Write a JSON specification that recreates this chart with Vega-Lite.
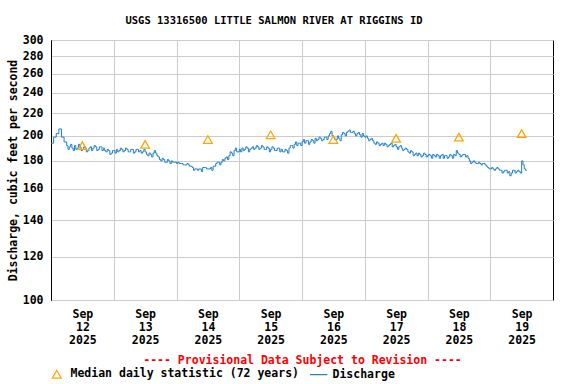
{
  "$schema": "https://vega.github.io/schema/vega-lite/v6.json",
  "autosize": {"type": "none"},
  "padding": {"left": 51, "top": 40, "right": 23, "bottom": 84},
  "width": 502,
  "height": 260,
  "title": {"text": "USGS 13316500 LITTLE SALMON RIVER AT RIGGINS ID", "font": "DejaVu Sans Mono", "fontSize": 10.5, "fontWeight": "bold", "color": "black", "anchor": "middle", "offset": 8, "dx": -28},
  "datasets": {
    "discharge": [
      {"t":"2025-09-12T00:00","q":194},{"t":"2025-09-12T01:00","q":199},{"t":"2025-09-12T02:00","q":202},{"t":"2025-09-12T03:00","q":206},{"t":"2025-09-12T04:00","q":199},{"t":"2025-09-12T05:00","q":195},{"t":"2025-09-12T06:00","q":192},{"t":"2025-09-12T07:00","q":191},{"t":"2025-09-12T08:00","q":190},{"t":"2025-09-12T09:00","q":192},{"t":"2025-09-12T10:00","q":190},{"t":"2025-09-12T11:00","q":191},{"t":"2025-09-12T12:00","q":189},{"t":"2025-09-12T13:00","q":190},{"t":"2025-09-12T14:00","q":188},{"t":"2025-09-12T15:00","q":191},{"t":"2025-09-12T16:00","q":190},{"t":"2025-09-12T17:00","q":191},{"t":"2025-09-12T18:00","q":189},{"t":"2025-09-12T19:00","q":191},{"t":"2025-09-12T20:00","q":190},{"t":"2025-09-12T21:00","q":187},{"t":"2025-09-12T22:00","q":188},{"t":"2025-09-12T23:00","q":186},
      {"t":"2025-09-13T00:00","q":188},{"t":"2025-09-13T01:00","q":189},{"t":"2025-09-13T02:00","q":188},{"t":"2025-09-13T03:00","q":189},{"t":"2025-09-13T04:00","q":188},{"t":"2025-09-13T05:00","q":189},{"t":"2025-09-13T06:00","q":187},{"t":"2025-09-13T07:00","q":189},{"t":"2025-09-13T08:00","q":187},{"t":"2025-09-13T09:00","q":189},{"t":"2025-09-13T10:00","q":188},{"t":"2025-09-13T11:00","q":187},{"t":"2025-09-13T12:00","q":187},{"t":"2025-09-13T13:00","q":184},{"t":"2025-09-13T14:00","q":185},{"t":"2025-09-13T15:00","q":186},{"t":"2025-09-13T16:00","q":186},{"t":"2025-09-13T17:00","q":183},{"t":"2025-09-13T18:00","q":180},{"t":"2025-09-13T19:00","q":181},{"t":"2025-09-13T20:00","q":179},{"t":"2025-09-13T21:00","q":180},{"t":"2025-09-13T22:00","q":180},{"t":"2025-09-13T23:00","q":179},
      {"t":"2025-09-14T00:00","q":178},{"t":"2025-09-14T01:00","q":178},{"t":"2025-09-14T02:00","q":178},{"t":"2025-09-14T03:00","q":177},{"t":"2025-09-14T04:00","q":178},{"t":"2025-09-14T05:00","q":176},{"t":"2025-09-14T06:00","q":175},{"t":"2025-09-14T07:00","q":174},{"t":"2025-09-14T08:00","q":173},{"t":"2025-09-14T09:00","q":174},{"t":"2025-09-14T10:00","q":175},{"t":"2025-09-14T11:00","q":175},{"t":"2025-09-14T12:00","q":174},{"t":"2025-09-14T13:00","q":175},{"t":"2025-09-14T14:00","q":176},{"t":"2025-09-14T15:00","q":178},{"t":"2025-09-14T16:00","q":179},{"t":"2025-09-14T17:00","q":179},{"t":"2025-09-14T18:00","q":180},{"t":"2025-09-14T19:00","q":183},{"t":"2025-09-14T20:00","q":184},{"t":"2025-09-14T21:00","q":186},{"t":"2025-09-14T22:00","q":188},{"t":"2025-09-14T23:00","q":187},
      {"t":"2025-09-15T00:00","q":189},{"t":"2025-09-15T01:00","q":190},{"t":"2025-09-15T02:00","q":189},{"t":"2025-09-15T03:00","q":190},{"t":"2025-09-15T04:00","q":189},{"t":"2025-09-15T05:00","q":191},{"t":"2025-09-15T06:00","q":190},{"t":"2025-09-15T07:00","q":191},{"t":"2025-09-15T08:00","q":190},{"t":"2025-09-15T09:00","q":191},{"t":"2025-09-15T10:00","q":189},{"t":"2025-09-15T11:00","q":190},{"t":"2025-09-15T12:00","q":189},{"t":"2025-09-15T13:00","q":190},{"t":"2025-09-15T14:00","q":188},{"t":"2025-09-15T15:00","q":190},{"t":"2025-09-15T16:00","q":189},{"t":"2025-09-15T17:00","q":187},{"t":"2025-09-15T18:00","q":188},{"t":"2025-09-15T19:00","q":190},{"t":"2025-09-15T20:00","q":192},{"t":"2025-09-15T21:00","q":193},{"t":"2025-09-15T22:00","q":192},{"t":"2025-09-15T23:00","q":194},
      {"t":"2025-09-16T00:00","q":195},{"t":"2025-09-16T01:00","q":194},{"t":"2025-09-16T02:00","q":196},{"t":"2025-09-16T03:00","q":195},{"t":"2025-09-16T04:00","q":196},{"t":"2025-09-16T05:00","q":198},{"t":"2025-09-16T06:00","q":197},{"t":"2025-09-16T07:00","q":198},{"t":"2025-09-16T08:00","q":197},{"t":"2025-09-16T09:00","q":199},{"t":"2025-09-16T10:00","q":200},{"t":"2025-09-16T11:00","q":204},{"t":"2025-09-16T12:00","q":199},{"t":"2025-09-16T13:00","q":197},{"t":"2025-09-16T14:00","q":198},{"t":"2025-09-16T15:00","q":201},{"t":"2025-09-16T16:00","q":202},{"t":"2025-09-16T17:00","q":203},{"t":"2025-09-16T18:00","q":205},{"t":"2025-09-16T19:00","q":203},{"t":"2025-09-16T20:00","q":202},{"t":"2025-09-16T21:00","q":202},{"t":"2025-09-16T22:00","q":201},{"t":"2025-09-16T23:00","q":202},
      {"t":"2025-09-17T00:00","q":199},{"t":"2025-09-17T01:00","q":198},{"t":"2025-09-17T02:00","q":197},{"t":"2025-09-17T03:00","q":196},{"t":"2025-09-17T04:00","q":193},{"t":"2025-09-17T05:00","q":194},{"t":"2025-09-17T06:00","q":193},{"t":"2025-09-17T07:00","q":192},{"t":"2025-09-17T08:00","q":193},{"t":"2025-09-17T09:00","q":192},{"t":"2025-09-17T10:00","q":194},{"t":"2025-09-17T11:00","q":192},{"t":"2025-09-17T12:00","q":191},{"t":"2025-09-17T13:00","q":191},{"t":"2025-09-17T14:00","q":190},{"t":"2025-09-17T15:00","q":189},{"t":"2025-09-17T16:00","q":189},{"t":"2025-09-17T17:00","q":186},{"t":"2025-09-17T18:00","q":187},{"t":"2025-09-17T19:00","q":185},{"t":"2025-09-17T20:00","q":184},{"t":"2025-09-17T21:00","q":185},{"t":"2025-09-17T22:00","q":184},{"t":"2025-09-17T23:00","q":185},
      {"t":"2025-09-18T00:00","q":184},{"t":"2025-09-18T01:00","q":184},{"t":"2025-09-18T02:00","q":185},{"t":"2025-09-18T03:00","q":183},{"t":"2025-09-18T04:00","q":184},{"t":"2025-09-18T05:00","q":184},{"t":"2025-09-18T06:00","q":182},{"t":"2025-09-18T07:00","q":184},{"t":"2025-09-18T08:00","q":183},{"t":"2025-09-18T09:00","q":184},{"t":"2025-09-18T10:00","q":185},{"t":"2025-09-18T11:00","q":188},{"t":"2025-09-18T12:00","q":185},{"t":"2025-09-18T13:00","q":184},{"t":"2025-09-18T14:00","q":185},{"t":"2025-09-18T15:00","q":184},{"t":"2025-09-18T16:00","q":180},{"t":"2025-09-18T17:00","q":179},{"t":"2025-09-18T18:00","q":179},{"t":"2025-09-18T19:00","q":178},{"t":"2025-09-18T20:00","q":178},{"t":"2025-09-18T21:00","q":178},{"t":"2025-09-18T22:00","q":177},{"t":"2025-09-18T23:00","q":175},
      {"t":"2025-09-19T00:00","q":174},{"t":"2025-09-19T01:00","q":174},{"t":"2025-09-19T02:00","q":174},{"t":"2025-09-19T03:00","q":174},{"t":"2025-09-19T04:00","q":173},{"t":"2025-09-19T05:00","q":172},{"t":"2025-09-19T06:00","q":173},{"t":"2025-09-19T07:00","q":172},{"t":"2025-09-19T08:00","q":171},{"t":"2025-09-19T09:00","q":173},{"t":"2025-09-19T10:00","q":172},{"t":"2025-09-19T11:00","q":172},{"t":"2025-09-19T12:00","q":180},{"t":"2025-09-19T13:00","q":174},{"t":"2025-09-19T14:00","q":173},
      {"t":"2025-09-12T06:30","q":189},{"t":"2025-09-12T07:30","q":193},{"t":"2025-09-12T08:30","q":188},{"t":"2025-09-12T09:30","q":189},{"t":"2025-09-12T10:30","q":193},{"t":"2025-09-12T11:30","q":188},{"t":"2025-09-12T12:30","q":191},{"t":"2025-09-12T13:30","q":187},{"t":"2025-09-12T14:30","q":190},{"t":"2025-09-12T15:30","q":188},{"t":"2025-09-12T16:30","q":192},{"t":"2025-09-12T17:30","q":188},{"t":"2025-09-12T18:30","q":191},{"t":"2025-09-12T19:30","q":188},{"t":"2025-09-12T20:30","q":188},{"t":"2025-09-12T21:30","q":189},{"t":"2025-09-12T22:30","q":185},{"t":"2025-09-12T23:30","q":188},
      {"t":"2025-09-13T00:30","q":186},{"t":"2025-09-13T01:30","q":187},{"t":"2025-09-13T02:30","q":190},{"t":"2025-09-13T03:30","q":187},{"t":"2025-09-13T04:30","q":190},{"t":"2025-09-13T05:30","q":187},{"t":"2025-09-13T06:30","q":189},{"t":"2025-09-13T07:30","q":186},{"t":"2025-09-13T08:30","q":189},{"t":"2025-09-13T09:30","q":187},{"t":"2025-09-13T10:30","q":186},{"t":"2025-09-13T11:30","q":189},{"t":"2025-09-13T12:30","q":185},{"t":"2025-09-13T13:30","q":186},{"t":"2025-09-13T14:30","q":183},{"t":"2025-09-13T15:30","q":188},{"t":"2025-09-13T16:30","q":184},{"t":"2025-09-13T17:30","q":181},{"t":"2025-09-13T18:30","q":182},{"t":"2025-09-13T19:30","q":179},{"t":"2025-09-13T20:30","q":181},{"t":"2025-09-13T21:30","q":178},{"t":"2025-09-13T22:30","q":179},
      {"t":"2025-09-14T00:30","q":179},{"t":"2025-09-14T02:30","q":177},{"t":"2025-09-14T04:30","q":177},{"t":"2025-09-14T06:30","q":173},{"t":"2025-09-14T08:30","q":174},{"t":"2025-09-14T09:30","q":172},{"t":"2025-09-14T11:30","q":174},{"t":"2025-09-14T13:30","q":173},{"t":"2025-09-14T15:30","q":179},{"t":"2025-09-14T16:30","q":177},{"t":"2025-09-14T17:30","q":181},{"t":"2025-09-14T18:30","q":182},{"t":"2025-09-14T19:30","q":181},{"t":"2025-09-14T20:30","q":187},{"t":"2025-09-14T21:30","q":184},{"t":"2025-09-14T22:30","q":190},
      {"t":"2025-09-15T00:30","q":187},{"t":"2025-09-15T01:30","q":188},{"t":"2025-09-15T02:30","q":191},{"t":"2025-09-15T03:30","q":187},{"t":"2025-09-15T04:30","q":190},{"t":"2025-09-15T05:30","q":189},{"t":"2025-09-15T06:30","q":192},{"t":"2025-09-15T07:30","q":189},{"t":"2025-09-15T08:30","q":192},{"t":"2025-09-15T09:30","q":189},{"t":"2025-09-15T10:30","q":191},{"t":"2025-09-15T11:30","q":187},{"t":"2025-09-15T12:30","q":191},{"t":"2025-09-15T13:30","q":188},{"t":"2025-09-15T14:30","q":190},{"t":"2025-09-15T15:30","q":187},{"t":"2025-09-15T16:30","q":187},{"t":"2025-09-15T17:30","q":189},{"t":"2025-09-15T18:30","q":186},{"t":"2025-09-15T19:30","q":192},{"t":"2025-09-15T20:30","q":190},{"t":"2025-09-15T21:30","q":195},{"t":"2025-09-15T22:30","q":194},{"t":"2025-09-15T23:30","q":192},
      {"t":"2025-09-16T00:30","q":197},{"t":"2025-09-16T01:30","q":196},{"t":"2025-09-16T02:30","q":193},{"t":"2025-09-16T03:30","q":197},{"t":"2025-09-16T04:30","q":194},{"t":"2025-09-16T05:30","q":196},{"t":"2025-09-16T06:30","q":199},{"t":"2025-09-16T07:30","q":196},{"t":"2025-09-16T08:30","q":199},{"t":"2025-09-16T09:30","q":197},{"t":"2025-09-16T10:30","q":202},{"t":"2025-09-16T11:30","q":200},{"t":"2025-09-16T12:30","q":197},{"t":"2025-09-16T13:30","q":200},{"t":"2025-09-16T14:30","q":196},{"t":"2025-09-16T15:30","q":203},{"t":"2025-09-16T16:30","q":200},{"t":"2025-09-16T17:30","q":204},{"t":"2025-09-16T18:30","q":203},{"t":"2025-09-16T19:30","q":204},{"t":"2025-09-16T20:30","q":200},{"t":"2025-09-16T21:30","q":203},{"t":"2025-09-16T22:30","q":199},{"t":"2025-09-16T23:30","q":200},
      {"t":"2025-09-17T00:30","q":200},{"t":"2025-09-17T01:30","q":196},{"t":"2025-09-17T02:30","q":198},{"t":"2025-09-17T03:30","q":194},{"t":"2025-09-17T04:30","q":195},{"t":"2025-09-17T05:30","q":192},{"t":"2025-09-17T06:30","q":194},{"t":"2025-09-17T07:30","q":194},{"t":"2025-09-17T08:30","q":191},{"t":"2025-09-17T09:30","q":193},{"t":"2025-09-17T10:30","q":191},{"t":"2025-09-17T11:30","q":193},{"t":"2025-09-17T12:30","q":189},{"t":"2025-09-17T13:30","q":192},{"t":"2025-09-17T14:30","q":188},{"t":"2025-09-17T15:30","q":190},{"t":"2025-09-17T16:30","q":187},{"t":"2025-09-17T17:30","q":188},{"t":"2025-09-17T18:30","q":184},{"t":"2025-09-17T19:30","q":186},{"t":"2025-09-17T20:30","q":186},{"t":"2025-09-17T21:30","q":183},{"t":"2025-09-17T22:30","q":186},{"t":"2025-09-17T23:30","q":183},
      {"t":"2025-09-18T00:30","q":185},{"t":"2025-09-18T01:30","q":182},{"t":"2025-09-18T02:30","q":184},{"t":"2025-09-18T03:30","q":185},{"t":"2025-09-18T04:30","q":182},{"t":"2025-09-18T05:30","q":185},{"t":"2025-09-18T06:30","q":184},{"t":"2025-09-18T07:30","q":182},{"t":"2025-09-18T08:30","q":185},{"t":"2025-09-18T09:30","q":182},{"t":"2025-09-18T10:30","q":184},{"t":"2025-09-18T11:30","q":186},{"t":"2025-09-18T12:30","q":183},{"t":"2025-09-18T13:30","q":185},{"t":"2025-09-18T14:30","q":183},{"t":"2025-09-18T15:30","q":182},{"t":"2025-09-18T16:30","q":178},{"t":"2025-09-18T17:30","q":180},{"t":"2025-09-18T18:30","q":178},{"t":"2025-09-18T19:30","q":179},{"t":"2025-09-18T20:30","q":177},{"t":"2025-09-18T21:30","q":178},{"t":"2025-09-18T22:30","q":176},{"t":"2025-09-18T23:30","q":174},
      {"t":"2025-09-19T00:30","q":175},{"t":"2025-09-19T01:30","q":173},{"t":"2025-09-19T02:30","q":175},{"t":"2025-09-19T03:30","q":173},{"t":"2025-09-19T04:30","q":171},{"t":"2025-09-19T05:30","q":173},{"t":"2025-09-19T06:30","q":171},{"t":"2025-09-19T07:30","q":169},{"t":"2025-09-19T08:30","q":173},{"t":"2025-09-19T09:30","q":171},{"t":"2025-09-19T10:30","q":173},{"t":"2025-09-19T11:30","q":171},{"t":"2025-09-19T12:30","q":177},{"t":"2025-09-19T13:30","q":173}
    ],
    "median": [
      {"t":"2025-09-12T12:00","q":192},{"t":"2025-09-13T12:00","q":193},{"t":"2025-09-14T12:00","q":197},{"t":"2025-09-15T12:00","q":201},{"t":"2025-09-16T12:00","q":197},{"t":"2025-09-17T12:00","q":198},{"t":"2025-09-18T12:00","q":199},{"t":"2025-09-19T12:00","q":202}
    ]
  },
  "encoding": {
    "y": {
      "field": "q", "type": "quantitative",
      "scale": {"type": "log", "domain": [100, 300], "nice": false},
      "axis": {"values": [100,120,140,160,180,200,220,240,260,280,300], "title": "Discharge, cubic feet per second", "ticks": false, "labelPadding": 8, "titlePadding": 4, "grid": true, "format": "d"}
    }
  },
  "layer": [
    {
      "data": {"name": "discharge"},
      "transform": [{"calculate": "'Discharge'", "as": "series"}],
      "mark": {"type": "line", "interpolate": "step-after", "strokeWidth": 1},
      "encoding": {
        "x": {
          "field": "t", "type": "temporal",
          "scale": {"domain": [{"year":2025,"month":"Sep","date":12},{"year":2025,"month":"Sep","date":20}]},
          "axis": {"orient": "top", "values": [{"year":2025,"month":"Sep","date":13},{"year":2025,"month":"Sep","date":14},{"year":2025,"month":"Sep","date":15},{"year":2025,"month":"Sep","date":16},{"year":2025,"month":"Sep","date":17},{"year":2025,"month":"Sep","date":18},{"year":2025,"month":"Sep","date":19}], "grid": true, "labels": false, "ticks": false, "domain": false, "title": null}
        },
        "color": {
          "field": "series", "type": "nominal",
          "scale": {"domain": ["Median daily statistic (72 years)", "Discharge"], "range": ["#ffa500", "#1f80d0"]},
          "legend": {
            "orient": "bottom", "direction": "horizontal", "title": null, "offset": 2,
            "labelFont": "DejaVu Sans Mono", "labelFontSize": 11.5, "labelFontWeight": "bold", "labelColor": "black", "labelLimit": 0,
            "symbolSize": 70, "labelOffset": 8, "columnPadding": 8,
            "encode": {"symbols": {"update": {
              "shape": {"signal": "datum.value === 'Discharge' ? 'stroke' : 'triangle-up'"},
              "size": {"signal": "datum.value === 'Discharge' ? 300 : 80"},
              "fill": {"value": "transparent"},
              "stroke": {"signal": "datum.value === 'Discharge' ? '#1f80d0' : '#ffa500'"},
              "strokeWidth": {"value": 1.2}
            }}}
          }
        }
      }
    },
    {
      "data": {"name": "median"},
      "transform": [{"calculate": "'Median daily statistic (72 years)'", "as": "series"}],
      "mark": {"type": "point", "shape": "triangle-up", "filled": false, "size": 75, "strokeWidth": 1.3, "opacity": 1},
      "encoding": {
        "x": {
          "field": "t", "type": "temporal",
          "axis": {"orient": "bottom", "values": [{"year":2025,"month":"Sep","date":12,"hours":12},{"year":2025,"month":"Sep","date":13,"hours":12},{"year":2025,"month":"Sep","date":14,"hours":12},{"year":2025,"month":"Sep","date":15,"hours":12},{"year":2025,"month":"Sep","date":16,"hours":12},{"year":2025,"month":"Sep","date":17,"hours":12},{"year":2025,"month":"Sep","date":18,"hours":12},{"year":2025,"month":"Sep","date":19,"hours":12}],
            "grid": false, "ticks": false, "domain": false, "labelPadding": 8, "labelLineHeight": 13, "labelAngle": 0,
            "labelExpr": "[timeFormat(datum.value, '%b'), timeFormat(datum.value, '%d'), timeFormat(datum.value, '%Y')]",
            "title": "---- Provisional Data Subject to Revision ----", "titleColor": "#ff0000", "titlePadding": 9}
        },
        "color": {"field": "series", "type": "nominal"}
      }
    }
  ],
  "resolve": {"axis": {"x": "independent"}},
  "config": {
    "font": "DejaVu Sans Mono",
    "view": {"stroke": "black", "strokeWidth": 1},
    "axis": {"labelFont": "DejaVu Sans Mono", "labelFontSize": 11.5, "labelFontWeight": "bold", "labelColor": "black", "titleFont": "DejaVu Sans Mono", "titleFontSize": 11.5, "titleFontWeight": "bold", "titleColor": "black", "gridColor": "#cccccc", "gridWidth": 1, "domainColor": "black", "labelOverlap": false, "labelFlush": false}
  }
}
